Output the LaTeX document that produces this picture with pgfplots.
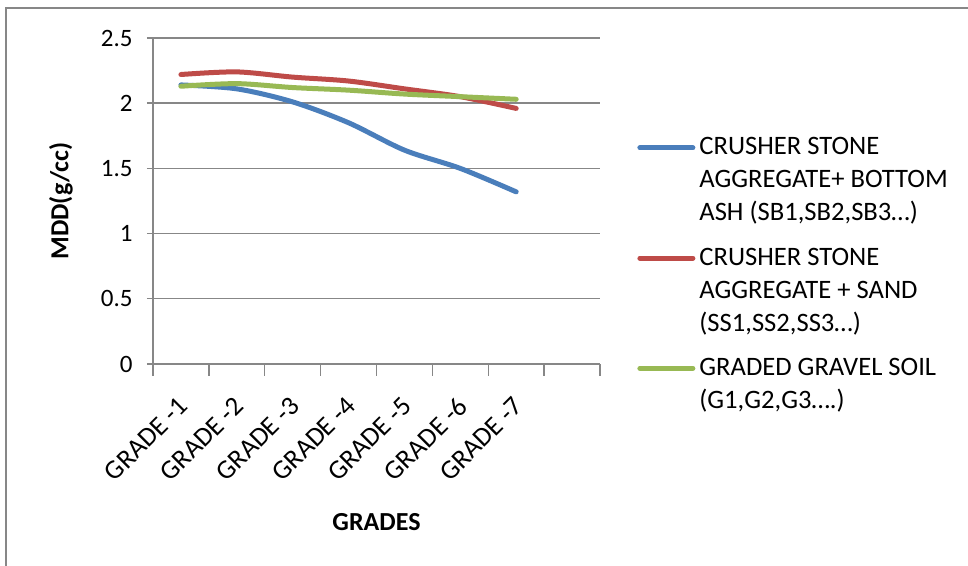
\documentclass[border=0pt]{standalone}
\usepackage{pgfplots}
\pgfplotsset{compat=1.18}
\usepackage{fontspec}
\setmainfont{Carlito}
\definecolor{sblue}{HTML}{4A7EBB}
\definecolor{sred}{HTML}{BE4B48}
\definecolor{sgreen}{HTML}{98B954}
\definecolor{gridgray}{HTML}{878787}
\begin{document}
\begin{tikzpicture}
\useasboundingbox (0,0) rectangle (484pt,283pt);
\draw[gridgray, line width=1pt] (3pt,-10pt) -- (3pt,279pt) -- (500pt,279pt);
\begin{axis}[
  at={(76.5pt,101pt)}, anchor=south west,
  scale only axis, width=223.5pt, height=163pt,
  xmin=0, xmax=8, ymin=0, ymax=2.5,
  axis x line=bottom, axis y line=left,
  axis line style={-, gridgray, line width=0.7pt},
  xtick={0,1,...,8}, xticklabels={},
  extra x ticks={0.5,1.5,2.5,3.5,4.5,5.5,6.5},
  extra x tick labels={GRADE -1,GRADE -2,GRADE -3,GRADE -4,GRADE -5,GRADE -6,GRADE -7},
  extra x tick style={major tick length=0pt, grid=none,
     xticklabel style={xshift=-2pt, yshift=-15.5pt, rotate=45, anchor=north east, inner sep=0pt, font=\fontsize{13.5}{16}\selectfont}},
  ytick={0,0.5,1,1.5,2,2.5},
  yticklabels={0,0.5,1,1.5,2,2.5},
  yticklabel style={anchor=east, inner sep=0pt, xshift=-7pt},
  ymajorgrids, grid style={gridgray, line width=0.7pt},
  tick align=center, major tick length=6pt,
  tick style={gridgray, line width=0.7pt},
  major x tick style={yshift=-3pt},
  tick label style={font=\fontsize{12.5}{15}\selectfont, text=black},
  xlabel={\textbf{GRADES}},
  xlabel style={font=\fontsize{13}{15}\selectfont, at={(axis description cs:0.5,0)}, anchor=center, yshift=-79pt},
  ylabel={\textbf{MDD(g/cc)}},
  ylabel style={font=\fontsize{13}{15}\selectfont, at={(axis description cs:-0.206,0.5)}, anchor=center, rotate=0},
  legend style={at={(axis description cs:1.0693,0.72)}, anchor=north west, draw=none, fill=none,
    font=\fontsize{13.3}{16.5}\selectfont, row sep=8pt,
    nodes={align=left, inner sep=2pt}},
  legend cell align=left,
  legend image code/.code={\draw[#1, line width=2.5pt] (0pt,0pt) -- (26.5pt,0pt);},
  every axis plot/.append style={line width=2.5pt, line cap=round, no markers, smooth},
]
\addplot[sblue, legend image post style={yshift=16.5pt}]
  coordinates {(0.5,2.14) (1.5,2.11) (2.5,2.01) (3.5,1.85) (4.5,1.64) (5.5,1.50) (6.5,1.32)};
\addlegendentry{CRUSHER STONE\\AGGREGATE+ BOTTOM\\ASH (SB1,SB2,SB3…)}
\addplot[sred, legend image post style={yshift=16.5pt}]
  coordinates {(0.5,2.22) (1.5,2.24) (2.5,2.20) (3.5,2.17) (4.5,2.11) (5.5,2.05) (6.5,1.96)};
\addlegendentry{CRUSHER STONE\\AGGREGATE + SAND\\(SS1,SS2,SS3…)}
\addplot[sgreen, legend image post style={yshift=8.25pt}]
  coordinates {(0.5,2.13) (1.5,2.15) (2.5,2.12) (3.5,2.10) (4.5,2.07) (5.5,2.05) (6.5,2.03)};
\addlegendentry{GRADED GRAVEL SOIL\\(G1,G2,G3….)}
\end{axis}
\end{tikzpicture}
\end{document}
